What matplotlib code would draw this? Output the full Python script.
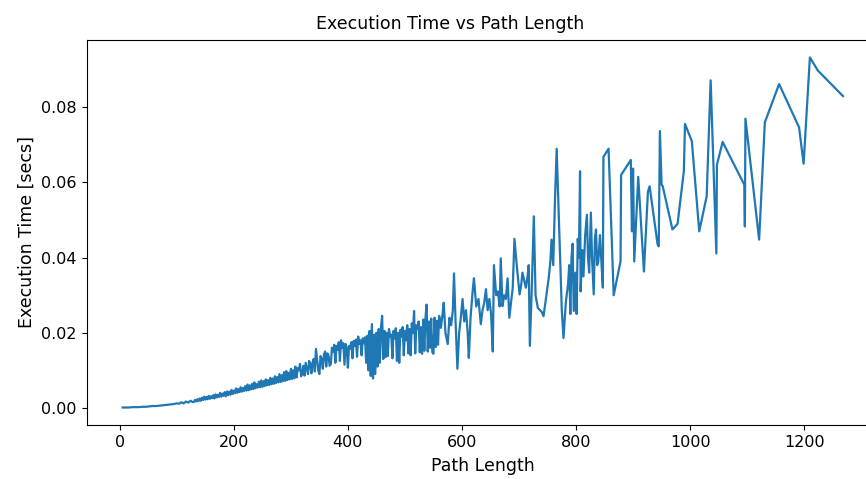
import matplotlib
matplotlib.use("Agg")
import matplotlib.pyplot as plt

# Path length (x) and execution time in seconds (y)
path_len_low = [5, 10, 16, 22, 28, 34, 40, 46, 52, 58, 64, 70, 76, 82, 88, 94, 100, 104, 108,
                112, 116, 120, 124, 128]
exec_time_low = [0.0001, 0.0001, 0.0001, 0.0002, 0.0002, 0.0002, 0.0003, 0.0003, 0.0004, 0.0005,
                 0.0005, 0.0006, 0.0007, 0.0008, 0.0009, 0.0010, 0.0012, 0.0011, 0.0015, 0.0012,
                 0.0017, 0.0014, 0.0019, 0.0015]

path_len_mid = [130, 132, 134, 136, 138, 140, 142, 144, 146, 148,
                150, 152, 154, 156, 158, 160, 162, 164, 166, 168,
                170, 172, 174, 176, 178, 180, 182, 184, 186, 188,
                190, 192, 194, 196, 198, 200, 202, 204, 206, 208,
                210, 212, 214, 216, 218, 220, 222, 224, 226, 228,
                230, 232, 234, 236, 238, 240, 242, 244, 246, 248,
                250, 252, 254, 256, 258, 260, 262, 264, 266, 268,
                270, 272, 274, 276, 278, 280, 282, 284, 286, 288,
                290, 292, 294, 296, 298, 300, 302, 304, 306, 308,
                310, 312, 314, 316, 318, 320, 322, 324, 326, 328,
                330, 332, 334, 336, 338, 340, 342, 344, 346, 348,
                350, 352, 354, 356, 358, 360, 362, 364, 366, 368,
                370, 372, 374, 376, 378, 380, 382, 384, 386, 388,
                390, 392, 394, 396, 398, 400, 402, 404, 406, 408,
                410, 412, 414, 416, 418, 420, 422, 424, 426, 428,
                430, 432, 434, 436, 438, 440, 442, 444, 446, 448,
                450, 452, 454, 456, 458, 460, 462, 464, 466, 468,
                470, 472, 474, 476, 478, 480, 482, 484, 486, 488,
                490, 492, 494, 496, 498, 500, 502, 504, 506, 508,
                510, 512, 514, 516, 518, 520, 522, 524, 526, 528,
                530, 532, 534, 536, 538, 540, 542, 544, 546, 548,
                550, 552, 554, 556, 558, 560]
exec_time_mid = [0.0016, 0.0021, 0.0017, 0.0023, 0.0018, 0.0025, 0.0019, 0.0027, 0.0021, 0.0030,
                 0.0022, 0.0029, 0.0023, 0.0032, 0.0024, 0.0031, 0.0026, 0.0034, 0.0025, 0.0036,
                 0.0028, 0.0035, 0.0029, 0.0040, 0.0030, 0.0038, 0.0032, 0.0042, 0.0031, 0.0044,
                 0.0034, 0.0043, 0.0035, 0.0048, 0.0037, 0.0046, 0.0039, 0.0052, 0.0040, 0.0050,
                 0.0042, 0.0055, 0.0043, 0.0053, 0.0045, 0.0058, 0.0046, 0.0062, 0.0047, 0.0060,
                 0.0049, 0.0064, 0.0050, 0.0068, 0.0052, 0.0063, 0.0054, 0.0070, 0.0055, 0.0073,
                 0.0056, 0.0071, 0.0058, 0.0076, 0.0060, 0.0074, 0.0061, 0.0080, 0.0063, 0.0078,
                 0.0064, 0.0084, 0.0066, 0.0082, 0.0068, 0.0090, 0.0069, 0.0087, 0.0071, 0.0095,
                 0.0072, 0.0098, 0.0074, 0.0093, 0.0076, 0.0104, 0.0077, 0.0100, 0.0079, 0.0110,
                 0.0081, 0.0106, 0.0100, 0.0117, 0.0084, 0.0092, 0.0112, 0.0086, 0.0120, 0.0105,
                 0.0090, 0.0125, 0.0118, 0.0092, 0.0120, 0.0130, 0.0097, 0.0157, 0.0128, 0.0100,
                 0.0090, 0.0138, 0.0130, 0.0104, 0.0142, 0.0150, 0.0110, 0.0145, 0.0140, 0.0112,
                 0.0117, 0.0160, 0.0150, 0.0168, 0.0120, 0.0165, 0.0155, 0.0175, 0.0125, 0.0180,
                 0.0160, 0.0172, 0.0115, 0.0170, 0.0160, 0.0107, 0.0165, 0.0158, 0.0175, 0.0132,
                 0.0178, 0.0165, 0.0182, 0.0136, 0.0190, 0.0170, 0.0180, 0.0140, 0.0185, 0.0172,
                 0.0188, 0.0120, 0.0192, 0.0100, 0.0205, 0.0085, 0.0223, 0.0078, 0.0195, 0.0090,
                 0.0200, 0.0110, 0.0210, 0.0120, 0.0215, 0.0245, 0.0130, 0.0205, 0.0135, 0.0200,
                 0.0138, 0.0210, 0.0190, 0.0195, 0.0132, 0.0205, 0.0185, 0.0212, 0.0125, 0.0200,
                 0.0120, 0.0208, 0.0190, 0.0215, 0.0140, 0.0205, 0.0180, 0.0220, 0.0145, 0.0210,
                 0.0140, 0.0225, 0.0200, 0.0258, 0.0145, 0.0220, 0.0210, 0.0230, 0.0148, 0.0215,
                 0.0144, 0.0235, 0.0152, 0.0240, 0.0275, 0.0150, 0.0230, 0.0160, 0.0238, 0.0148,
                 0.0144, 0.0240, 0.0162, 0.0232, 0.0168, 0.0245]

path_len_high = [563, 566, 568, 571, 575, 578, 581, 584, 586, 589, 592, 595, 598, 601, 604, 607,
                 610, 612, 615, 619, 621, 625, 629, 633, 636, 639, 642, 645, 648, 651, 654, 656,
                 660, 663, 666, 668, 671, 674, 677, 680, 683, 686, 689, 692, 696, 701, 704, 706,
                 709, 712, 715, 717, 719, 722, 726, 729, 733, 737, 740, 743, 748, 752, 755, 757,
                 760, 763, 766, 771, 775, 778, 782, 786, 788, 790, 792, 794, 796, 799, 801, 803,
                 805, 807, 808, 811, 813, 816, 819, 821, 823, 826, 828, 831, 833, 835, 837, 839,
                 842, 844, 847, 848, 857, 866, 878, 879, 896, 898, 900, 902, 909, 919, 926, 929,
                 943, 945, 947, 950, 952, 969, 978, 989, 991, 1003, 1016, 1029, 1036, 1046, 1047,
                 1057, 1095, 1096, 1097, 1121, 1131, 1156, 1191, 1199, 1210, 1224, 1268]
exec_time_high = [0.0213, 0.0250, 0.0280, 0.0200, 0.0170, 0.0240, 0.0220, 0.0260, 0.0358, 0.0220,
                  0.0104, 0.0200, 0.0240, 0.0290, 0.0230, 0.0260, 0.0200, 0.0133, 0.0240, 0.0316,
                  0.0345, 0.0270, 0.0290, 0.0223, 0.0260, 0.0280, 0.0316, 0.0260, 0.0290, 0.0250,
                  0.0150, 0.0380, 0.0300, 0.0310, 0.0270, 0.0398, 0.0271, 0.0300, 0.0290, 0.0345,
                  0.0240, 0.0280, 0.0320, 0.0450, 0.0380, 0.0302, 0.0330, 0.0360, 0.0340, 0.0320,
                  0.0350, 0.0380, 0.0165, 0.0300, 0.0510, 0.0300, 0.0266, 0.0260, 0.0255, 0.0244,
                  0.0300, 0.0345, 0.0390, 0.0448, 0.0380, 0.0550, 0.0690, 0.0450, 0.0260, 0.0186,
                  0.0280, 0.0330, 0.0380, 0.0250, 0.0400, 0.0437, 0.0258, 0.0360, 0.0250, 0.0450,
                  0.0400, 0.0630, 0.0310, 0.0420, 0.0350, 0.0460, 0.0514, 0.0400, 0.0360, 0.0520,
                  0.0400, 0.0302, 0.0450, 0.0475, 0.0380, 0.0390, 0.0460, 0.0400, 0.0320, 0.0668,
                  0.0690, 0.0300, 0.0390, 0.0620, 0.0660, 0.0470, 0.0637, 0.0390, 0.0615, 0.0363,
                  0.0575, 0.0590, 0.0435, 0.0430, 0.0737, 0.0594, 0.0590, 0.0475, 0.0490, 0.0630,
                  0.0756, 0.0710, 0.0470, 0.0563, 0.0872, 0.0411, 0.0647, 0.0708, 0.0594, 0.0483,
                  0.0770, 0.0448, 0.0760, 0.0862, 0.0747, 0.0650, 0.0933, 0.0898, 0.0830]

path_length = path_len_low + path_len_mid + path_len_high
exec_time = exec_time_low + exec_time_mid + exec_time_high

fig = plt.figure(figsize=(8.66, 4.79), dpi=100)
ax = fig.add_axes([0.1, 0.1127, 0.915, 0.804])
ax.plot(path_length, exec_time, color="#1f77b4", linewidth=1.6)

ax.set_title("Execution Time vs Path Length", fontsize=12.5, x=0.4587, pad=8)
ax.set_xlabel("Path Length", fontsize=12.5, labelpad=5)
ax.set_ylabel("Execution Time [secs]", fontsize=12.5)
ax.set_xticks([0, 200, 400, 600, 800, 1000, 1200])
ax.set_yticks([0.00, 0.02, 0.04, 0.06, 0.08])
ax.set_yticklabels(["0.00", "0.02", "0.04", "0.06", "0.08"])
ax.tick_params(labelsize=11.5)

fig.savefig("out.png", dpi=100)
